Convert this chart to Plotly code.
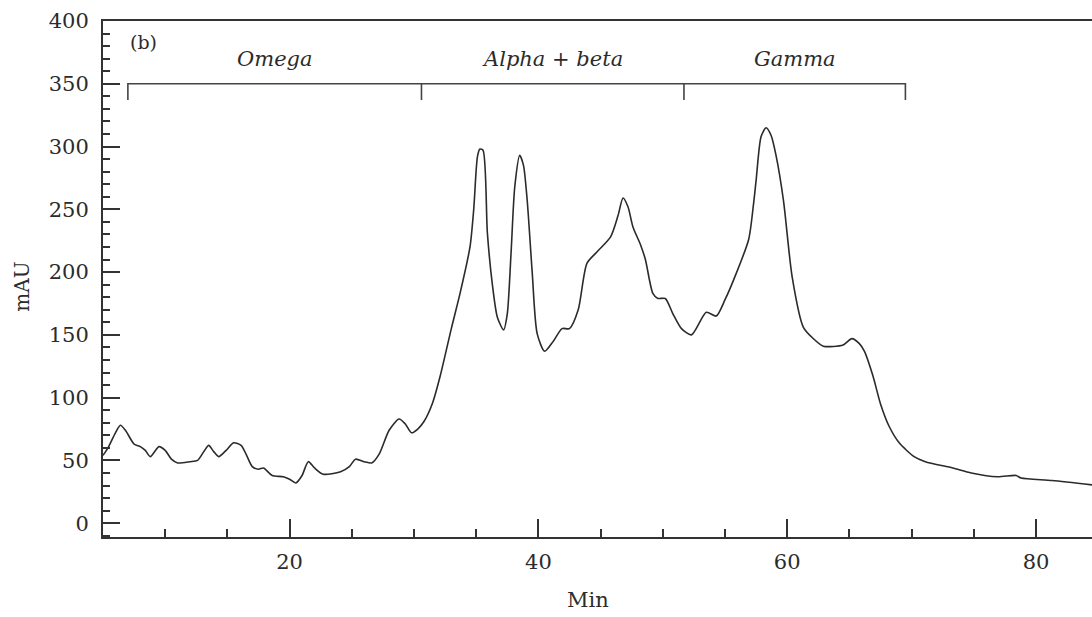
import plotly.graph_objects as go

# Chromatogram trace (time in min, absorbance in mAU)
time_min = [5.0, 5.4, 6.0, 6.4, 6.8, 7.5, 8.0, 8.4, 8.8, 9.5, 10.0, 10.5, 11.0, 12.0, 12.6,
            13.1, 13.5, 13.9, 14.3, 14.9, 15.5, 16.1, 16.5, 17.0, 17.5, 17.9, 18.6, 19.5,
            20.0, 20.5, 21.0, 21.5, 22.0, 22.7, 24.1, 24.8, 25.3, 26.0, 26.6, 27.2, 28.0,
            28.8, 29.3, 29.8, 30.3, 30.8, 31.5, 32.1, 33.0, 33.7, 34.5, 34.8, 35.1, 35.3,
            35.55, 35.9, 36.3, 36.7, 37.2, 37.5, 37.8, 38.1, 38.5, 38.8, 39.1, 39.5, 39.9,
            40.5, 41.2, 41.9, 42.5, 43.2, 43.9, 44.7, 45.8, 46.4, 46.8, 47.2, 47.6, 48.2,
            48.6, 49.2, 49.6, 50.2, 50.8, 51.5, 52.3, 53.5, 54.3, 55.0, 55.7, 56.9, 57.3,
            57.5, 57.9, 58.3, 58.7, 59.1, 59.7, 60.4, 61.3, 62.1, 62.9, 64.5, 65.2, 65.8,
            66.2, 66.9, 67.5, 68.2, 69.0, 70.2, 71.1, 73.3, 74.8, 76.9, 78.4, 78.8, 81.3,
            84.5]
absorbance_mau = [54, 60, 72, 78, 74, 63, 61, 58, 53, 61, 58, 51, 48, 49, 50,
                  57, 62, 57, 53, 58, 64, 62, 55, 45, 43, 44, 38, 37,
                  35, 32, 38, 49, 44, 39, 41, 45, 51, 49, 48, 55, 74,
                  83, 79, 72, 75, 81, 96, 117, 155, 183, 220, 250, 292, 298,
                  297, 231, 190, 164, 154, 167, 215, 268, 293, 285, 257, 200, 151,
                  137, 145, 155, 155, 170, 207, 216, 228, 245, 259, 252, 236, 222,
                  210, 183, 179, 179, 167, 155, 150, 168, 165, 178, 194, 226, 255,
                  273, 308, 315, 309, 293, 257, 196, 156, 147, 141, 142, 147, 143,
                  137, 117, 95, 77, 64, 53, 49, 44, 40, 37, 38, 36, 34,
                  30.5]

# Fraction brackets
bracket_edges = [7.0, 30.6, 51.7, 69.5]
bracket_labels = ["Omega", "Alpha + beta", "Gamma"]
bracket_level = 350
bracket_drop = 337
label_level = 370

x_range = [5.0, 84.5]
y_range = [-11, 400]

FONT = "DejaVu Serif"
INK = "#2b2b2b"

fig = go.Figure()

fig.add_trace(go.Scatter(
    x=time_min, y=absorbance_mau, mode="lines",
    line=dict(color=INK, width=1.6, shape="spline", smoothing=0.7),
    hoverinfo="skip", showlegend=False))

# bracket path
bx, by = [], []
bx += [bracket_edges[0], bracket_edges[0], bracket_edges[-1], bracket_edges[-1], None]
by += [bracket_drop, bracket_level, bracket_level, bracket_drop, None]
for e in bracket_edges[1:-1]:
    bx += [e, e, None]
    by += [bracket_level, bracket_drop, None]
fig.add_trace(go.Scatter(x=bx, y=by, mode="lines",
                         line=dict(color="#444444", width=1.6),
                         hoverinfo="skip", showlegend=False))

for i, lab in enumerate(bracket_labels):
    fig.add_annotation(x=(bracket_edges[i] + bracket_edges[i + 1]) / 2, y=label_level,
                       text=f"<i>{lab}</i>", showarrow=False,
                       font=dict(family=FONT, size=21, color=INK))

fig.add_annotation(x=8.25, y=383, text="(b)", showarrow=False,
                   font=dict(family=FONT, size=19, color=INK))

fig.add_annotation(xref="paper", yref="paper", x=0.490, y=-0.122, text="Min",
                   xanchor="center", yanchor="middle", showarrow=False,
                   font=dict(family=FONT, size=21, color=INK))
fig.add_annotation(xref="paper", yref="paper", x=-0.082, y=0.485, text="mAU",
                   xanchor="center", yanchor="middle",
                   textangle=-90, showarrow=False,
                   font=dict(family=FONT, size=20, color=INK))

fig.update_xaxes(range=x_range, showgrid=False, zeroline=False,
                 showline=True, linecolor="#333333", linewidth=2, mirror=True,
                 ticks="inside", tick0=0, dtick=20, ticklen=18, tickwidth=1.5,
                 tickcolor="#333333", ticklabelstandoff=5,
                 minor=dict(ticks="inside", dtick=5, ticklen=8, tickwidth=1.5,
                            tickcolor="#333333", showgrid=False),
                 tickfont=dict(family=FONT, size=21, color=INK))
fig.update_yaxes(range=y_range, showgrid=False, zeroline=False,
                 showline=True, linecolor="#333333", linewidth=2,
                 ticks="inside", tick0=0, dtick=50, ticklen=17, tickwidth=1.5,
                 tickcolor="#333333", ticklabelstandoff=8,
                 minor=dict(ticks="inside", dtick=10, ticklen=7, tickwidth=1.5,
                            tickcolor="#333333", showgrid=False),
                 tickfont=dict(family=FONT, size=21, color=INK))

fig.update_layout(width=1092, height=617, autosize=False,
                  margin=dict(l=103, r=0, t=21, b=80),
                  paper_bgcolor="white", plot_bgcolor="white")

fig.write_html("out.html")
